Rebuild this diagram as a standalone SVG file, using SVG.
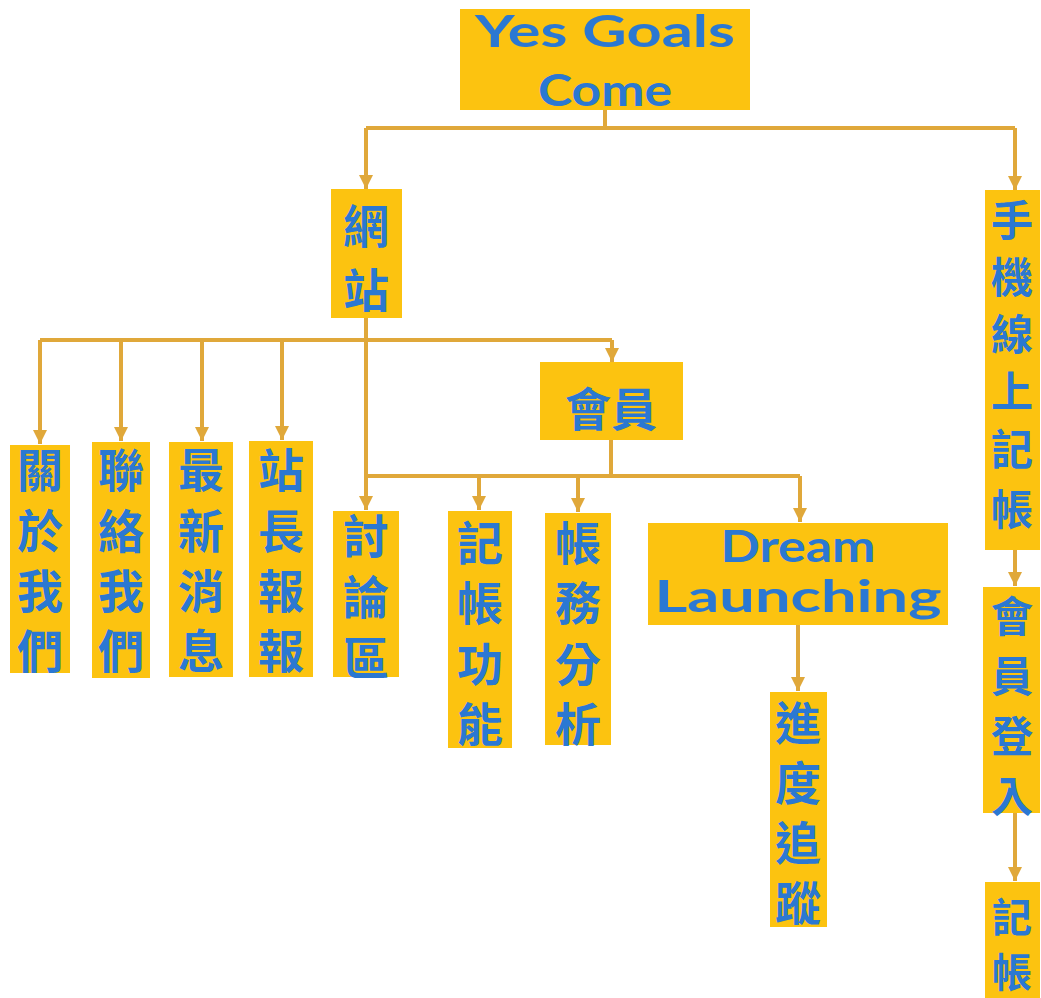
<svg xmlns="http://www.w3.org/2000/svg" width="1041" height="998" viewBox="0 0 1041 998">
  <style>
    .box { fill: #fcc310; }
    .cjk { font-family: "Noto Sans CJK TC", "Noto Sans CJK SC", sans-serif; font-weight: 700; font-size: 46px; fill: #2b78d2; text-anchor: middle; dominant-baseline: central; }
    .cjk.sm { font-size: 42px; }
    .cjk.xs { font-size: 40px; }
    .lat { font-family: "Lato", "Liberation Sans", sans-serif; font-weight: 700; font-size: 44px; fill: #2b78d2; text-anchor: middle; }
    .link { fill: none; stroke: #e0a83a; stroke-width: 4; }
    .arrow { marker-end: url(#tip); }
  </style>
  <defs>
    <marker id="tip" markerUnits="userSpaceOnUse" markerWidth="16" markerHeight="16" viewBox="0 0 16 16" refX="14" refY="8" orient="auto">
      <path d="M0,1 L14,8 L0,15 Z" fill="#e0a83a"/>
    </marker>
  </defs>
  <rect width="1041" height="998" fill="#ffffff"/>

  <!-- connectors -->
  <g id="connectors">
    <path class="link" d="M605,110 V128 M366,128 H1015"/>
    <path class="link arrow" d="M366,128 V189"/>
    <path class="link arrow" d="M1015,128 V190"/>
    <path class="link" d="M40,340 H612"/>
    <path class="link arrow" d="M366,318 V510"/>
    <path class="link arrow" d="M612,340 V362"/>
    <path class="link arrow" d="M40,340 V444"/>
    <path class="link arrow" d="M121,340 V441"/>
    <path class="link arrow" d="M202,340 V441"/>
    <path class="link arrow" d="M282,340 V440"/>
    <path class="link" d="M611,440 V476 M366,476 H800"/>
    <path class="link arrow" d="M479,476 V510"/>
    <path class="link arrow" d="M578,476 V512"/>
    <path class="link arrow" d="M800,476 V522"/>
    <path class="link arrow" d="M798,625 V691"/>
    <path class="link arrow" d="M1015,550 V586"/>
    <path class="link arrow" d="M1015,813 V881"/>
  </g>

  <g id="root">
    <rect class="box" x="460" y="9" width="290" height="101"/>
    <text class="lat" x="605" y="47" textLength="260" lengthAdjust="spacingAndGlyphs">Yes Goals</text>
    <text class="lat" x="605" y="106" textLength="134" lengthAdjust="spacingAndGlyphs">Come</text>
  </g>

  <g id="website">
    <rect class="box" x="331" y="189" width="71" height="129"/>
    <text class="cjk"><tspan x="366" y="223">網</tspan><tspan x="366" y="287">站</tspan></text>
  </g>

  <g id="about">
    <rect class="box" x="10" y="445" width="60" height="228"/>
    <text class="cjk"><tspan x="40" y="467">關</tspan><tspan x="40" y="528">於</tspan><tspan x="40" y="588">我</tspan><tspan x="40" y="648">們</tspan></text>
  </g>

  <g id="contact">
    <rect class="box" x="92" y="442" width="58" height="236"/>
    <text class="cjk"><tspan x="121" y="467">聯</tspan><tspan x="121" y="528">絡</tspan><tspan x="121" y="588">我</tspan><tspan x="121" y="648">們</tspan></text>
  </g>

  <g id="news">
    <rect class="box" x="169" y="442" width="64" height="235"/>
    <text class="cjk"><tspan x="201" y="467">最</tspan><tspan x="201" y="528">新</tspan><tspan x="201" y="588">消</tspan><tspan x="201" y="648">息</tspan></text>
  </g>

  <g id="newsletter">
    <rect class="box" x="249" y="441" width="64" height="236"/>
    <text class="cjk"><tspan x="281" y="467">站</tspan><tspan x="281" y="528">長</tspan><tspan x="281" y="588">報</tspan><tspan x="281" y="648">報</tspan></text>
  </g>

  <g id="member">
    <rect class="box" x="540" y="362" width="143" height="78"/>
    <text class="cjk" x="611" y="406">會員</text>
  </g>

  <g id="forum">
    <rect class="box" x="333" y="511" width="66" height="166"/>
    <text class="cjk"><tspan x="366" y="533">討</tspan><tspan x="366" y="594">論</tspan><tspan x="366" y="655">區</tspan></text>
  </g>

  <g id="bookkeeping">
    <rect class="box" x="448" y="511" width="64" height="237"/>
    <text class="cjk"><tspan x="480" y="540">記</tspan><tspan x="480" y="600">帳</tspan><tspan x="480" y="661">功</tspan><tspan x="480" y="721">能</tspan></text>
  </g>

  <g id="analysis">
    <rect class="box" x="545" y="513" width="66" height="232"/>
    <text class="cjk"><tspan x="578" y="540">帳</tspan><tspan x="578" y="600">務</tspan><tspan x="578" y="661">分</tspan><tspan x="578" y="721">析</tspan></text>
  </g>

  <g id="dream">
    <rect class="box" x="648" y="523" width="300" height="102"/>
    <text class="lat" x="798" y="562" textLength="155" lengthAdjust="spacingAndGlyphs">Dream</text>
    <text class="lat" x="798" y="612" textLength="287" lengthAdjust="spacingAndGlyphs">Launching</text>
  </g>

  <g id="tracking">
    <rect class="box" x="770" y="692" width="57" height="235"/>
    <text class="cjk"><tspan x="798" y="720">進</tspan><tspan x="798" y="780">度</tspan><tspan x="798" y="840">追</tspan><tspan x="798" y="900">蹤</tspan></text>
  </g>

  <g id="mobile">
    <rect class="box" x="985" y="190" width="55" height="360"/>
    <text class="cjk sm"><tspan x="1012" y="217">手</tspan><tspan x="1012" y="274">機</tspan><tspan x="1012" y="331">線</tspan><tspan x="1012" y="388">上</tspan><tspan x="1012" y="446">記</tspan><tspan x="1012" y="506">帳</tspan></text>
  </g>

  <g id="login">
    <rect class="box" x="983" y="587" width="57" height="226"/>
    <text class="cjk sm"><tspan x="1012" y="613">會</tspan><tspan x="1012" y="673">員</tspan><tspan x="1012" y="733">登</tspan><tspan x="1012" y="793">入</tspan></text>
  </g>

  <g id="record">
    <rect class="box" x="985" y="882" width="55" height="116"/>
    <text class="cjk xs"><tspan x="1012" y="915">記</tspan><tspan x="1012" y="970">帳</tspan></text>
  </g>
</svg>
